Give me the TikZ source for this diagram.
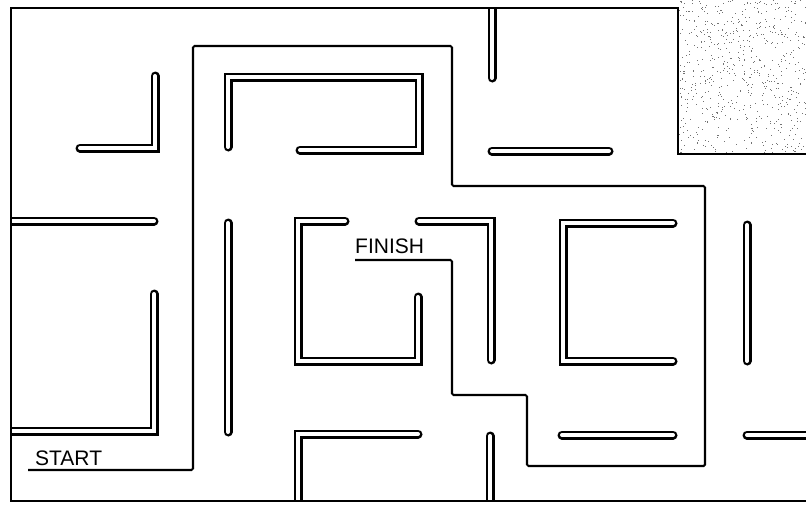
\documentclass[tikz,border=0pt]{standalone}
\usepackage{fontspec}
\setmainfont{Liberation Sans}
\begin{document}
\begin{tikzpicture}[x=1pt,y=-1pt,
  border/.style={line width=2.8pt,line join=miter},
  route/.style={line width=2.1pt,rounded corners=1.5pt},
  wallout/.style={line width=9pt,line cap=round,line join=miter,black},
  wallin/.style={line width=4pt,line cap=round,line join=miter,white},
  label/.style={font=\fontsize{21}{21}\selectfont,inner sep=0pt,anchor=base west}]
\useasboundingbox (0,0) rectangle (806,504);
\fill[white] (0,0) rectangle (806,504);
% speckled area
\pgfmathsetseed{11}
\foreach \i in {1,...,650}{
  \pgfmathsetmacro\dx{679+rnd*127}
  \pgfmathsetmacro\dy{rnd*153}
  \fill[black!55] (\dx,\dy) rectangle ++(0.9,0.9);
}
\newcommand\mazewall[1]{\draw[wallout] #1; \draw[wallin] #1;}
\begin{scope}
\clip (11,8) -- (678,8) -- (678,154) -- (806,154) -- (806,501) -- (11,501) -- cycle;
\mazewall{(80,148) -- (155,148) -- (155,76)}
\mazewall{(300,150) -- (419,150) -- (419,77) -- (228,77) -- (228,147)}
\mazewall{(492,0) -- (492,78)}
\mazewall{(492,151) -- (609,151)}
\mazewall{(0,221) -- (154,221)}
\mazewall{(0,431) -- (154,431) -- (154,294)}
\mazewall{(228,223) -- (228,432)}
\mazewall{(345,221) -- (298,221) -- (298,361) -- (418,361) -- (418,297)}
\mazewall{(419,221) -- (491,221) -- (491,360)}
\mazewall{(673,223) -- (563,223) -- (563,361) -- (673,361)}
\mazewall{(747,225) -- (747,361)}
\mazewall{(562,435) -- (673,435)}
\mazewall{(747,435) -- (820,435)}
\mazewall{(490,436) -- (490,520)}
\mazewall{(298,520) -- (298,434) -- (418,434)}
\end{scope}
\draw[border] (806,154) -- (678,154) -- (678,8) -- (11,8) -- (11,501) -- (806,501);
\coordinate (s) at (28,470);
\coordinate (f) at (355,260);
\draw[route] (s) -- (193,470) -- (193,46) -- (452,46) -- (452,186) -- (705,186) -- (705,466) -- (527,466) -- (527,395) -- (452,395) -- (452,260) -- (f);
\node[label] (start) at (35,465.5) {START};
\node[label] (finish) at (355,253.5) {FINISH};
\end{tikzpicture}
\end{document}
